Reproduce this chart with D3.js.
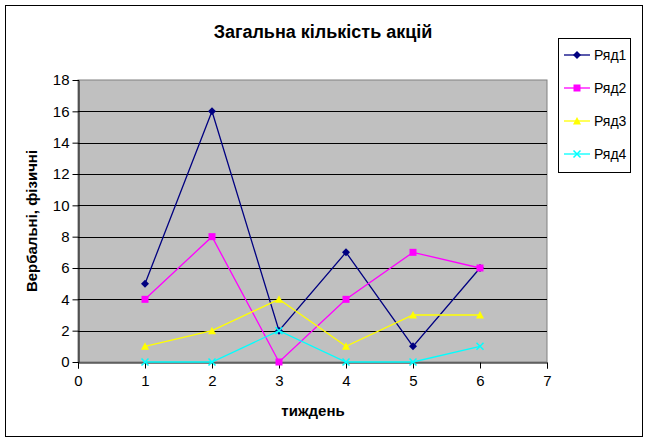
<!DOCTYPE html>
<html><head><meta charset="utf-8">
<script src="https://cdn.jsdelivr.net/npm/d3@7"></script>
<style>body{margin:0;background:#fff;}svg{display:block;font-family:Arial,"Liberation Sans",sans-serif;}</style>
</head><body><svg id="c" width="647" height="441"></svg>
<script>
const weeks = [1, 2, 3, 4, 5, 6];
const seriesNames = ["Ряд1", "Ряд2", "Ряд3", "Ряд4"];
const ryad1 = [5, 16, 2, 7, 1, 6];
const ryad2 = [4, 8, 0, 4, 7, 6];
const ryad3 = [1, 2, 4, 1, 3, 3];
const ryad4 = [0, 0, 2, 0, 0, 1];
const yTicks = [0, 2, 4, 6, 8, 10, 12, 14, 16, 18];
const xTicks = [0, 1, 2, 3, 4, 5, 6, 7];
const colors = ["#000080", "#FF00FF", "#FFFF00", "#00FFFF"];
const markers = ["diamond", "square", "triangle", "x"];
const allSeries = [ryad1, ryad2, ryad3, ryad4];

const svg = d3.select("#c");
svg.append("rect").attr("x", 5.5).attr("y", 5.5).attr("width", 637).attr("height", 431)
  .attr("fill", "#fff").attr("stroke", "#000").attr("stroke-width", 1);

const L = 78, R = 547, T = 80, B = 362;
const x = d3.scaleLinear().domain([0, 7]).range([L, R]);
const y = d3.scaleLinear().domain([0, 18]).range([B, T]);

svg.append("rect").attr("x", L).attr("y", T).attr("width", R - L).attr("height", B - T)
  .attr("fill", "#C0C0C0").attr("stroke", "#808080").attr("stroke-width", 1);

svg.append("g").selectAll("line").data(yTicks.filter(d => d > 0 && d < 18)).join("line")
  .attr("x1", L).attr("x2", R).attr("y1", d => Math.round(y(d)) + 0.5).attr("y2", d => Math.round(y(d)) + 0.5)
  .attr("stroke", "#000").attr("stroke-width", 1);

const yAxis = svg.append("g").attr("transform", `translate(${L + 0.5},0)`)
  .call(d3.axisLeft(y).tickValues(yTicks).tickSize(5).tickPadding(4).tickFormat(d3.format("d")));
const xAxis = svg.append("g").attr("transform", `translate(0,${B + 0.5})`)
  .call(d3.axisBottom(x).tickValues(xTicks).tickSize(6).tickPadding(7).tickFormat(d3.format("d")));
[yAxis, xAxis].forEach(a => {
  a.select(".domain").attr("stroke", "#000");
  a.selectAll(".tick line").attr("stroke", "#000");
  a.selectAll("text").attr("font-size", 15).attr("fill", "#000").attr("font-family", "Arial, 'Liberation Sans', sans-serif");
});
yAxis.selectAll(".tick line").attr("x2", -6);

const line = d3.line().x((d, i) => x(weeks[i])).y(d => y(d));
function marker(g, type, cx, cy, color) {
  if (type === "diamond") {
    g.append("path").attr("d", `M${cx},${cy-4}L${cx+4},${cy}L${cx},${cy+4}L${cx-4},${cy}Z`).attr("fill", color);
  } else if (type === "square") {
    g.append("rect").attr("x", cx - 3.5).attr("y", cy - 3.5).attr("width", 7).attr("height", 7).attr("fill", color);
  } else if (type === "triangle") {
    g.append("path").attr("d", `M${cx},${cy-4}L${cx+4},${cy+3.5}L${cx-4},${cy+3.5}Z`).attr("fill", color);
  } else {
    g.append("path").attr("d", `M${cx-3.5},${cy-3.5}L${cx+3.5},${cy+3.5}M${cx-3.5},${cy+3.5}L${cx+3.5},${cy-3.5}`)
      .attr("stroke", color).attr("stroke-width", 1.5);
  }
}
allSeries.forEach((s, k) => {
  const g = svg.append("g");
  g.append("path").attr("d", line(s)).attr("fill", "none").attr("stroke", colors[k]).attr("stroke-width", 1.3);
  s.forEach((v, i) => marker(g, markers[k], x(weeks[i]), y(v), colors[k]));
});

svg.append("text").attr("x", 323).attr("y", 38).attr("text-anchor", "middle")
  .attr("font-size", 18).attr("font-weight", "bold").text("Загальна кількість акцій");
svg.append("text").attr("x", 313).attr("y", 416).attr("text-anchor", "middle")
  .attr("font-size", 15).attr("font-weight", "bold").text("тиждень");
svg.append("text").attr("transform", `translate(37,${(T + B) / 2}) rotate(-90)`).attr("text-anchor", "middle")
  .attr("font-size", 15).attr("font-weight", "bold").text("Вербальні, фізичні");

const lg = svg.append("g");
lg.append("rect").attr("x", 558.5).attr("y", 38.5).attr("width", 72).attr("height", 134)
  .attr("fill", "#fff").attr("stroke", "#000");
seriesNames.forEach((n, k) => {
  const cy = 55 + k * 33;
  lg.append("line").attr("x1", 564).attr("x2", 590).attr("y1", cy).attr("y2", cy).attr("stroke", colors[k]).attr("stroke-width", 1.3);
  marker(lg, markers[k], 577, cy, colors[k]);
  lg.append("text").attr("x", 594).attr("y", cy + 5).attr("font-size", 14).text(n);
});
</script></body></html>
